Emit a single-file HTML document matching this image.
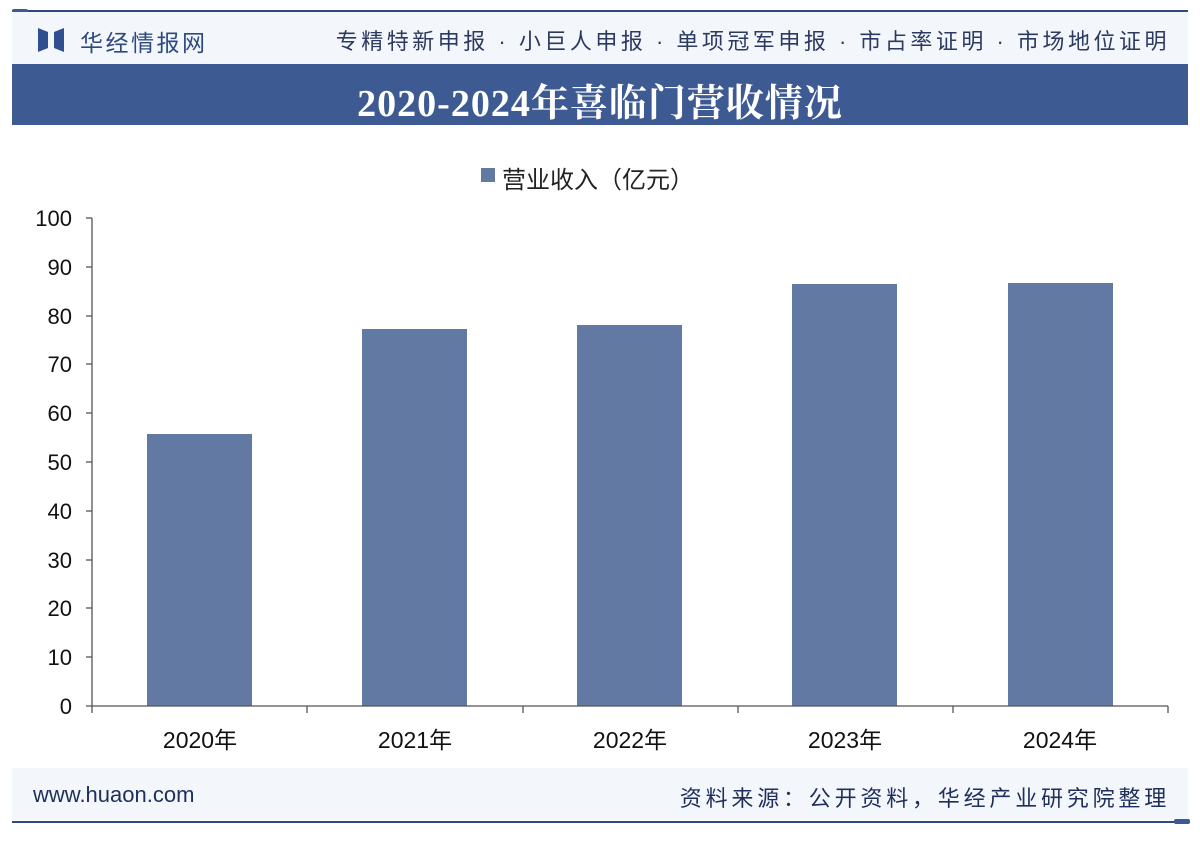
<!DOCTYPE html>
<html><head><meta charset="utf-8"><style>
body{margin:0;width:1200px;height:842px;background:#fff;position:relative;overflow:hidden;font-family:"Liberation Sans","Noto Sans CJK SC",sans-serif}
.a{position:absolute}
</style></head><body>
<div class="a" style="left:12px;top:10px;width:1176px;height:2px;background:#2f4a7a"></div>
<div class="a" style="left:12px;top:9px;width:16px;height:4px;background:#3d5a92;border-radius:2px"></div>
<div class="a" style="left:12px;top:12px;width:1176px;height:52px;background:#f3f6fb"></div>
<svg class="a" style="left:38px;top:28px" width="26" height="24"><path d="M0 0 L10 4 L10 20 L0 24Z M26 0 L16 4 L16 20 L26 24Z" fill="#2f4f8f"/></svg>
<div class="a" style="left:80px;top:24px;font-size:23px;color:#2d4a80;letter-spacing:2.5px">华经情报网</div>
<div class="a" style="right:30px;top:24px;font-size:22px;color:#2d3a60;letter-spacing:3.5px;white-space:nowrap">专精特新申报 · 小巨人申报 · 单项冠军申报 · 市占率证明 · 市场地位证明</div>
<div class="a" style="left:12px;top:64px;width:1176px;height:61px;background:#3d5a92"></div>
<div class="a" style="left:12px;top:72px;width:1176px;text-align:center;font-family:'Liberation Serif','Noto Serif CJK SC',serif;font-weight:bold;font-size:38px;letter-spacing:1px;color:#fff">2020-2024年喜临门营收情况</div>
<div class="a" style="left:481px;top:168px;width:14px;height:14px;background:#6279a4"></div>
<div class="a" style="left:502px;top:160px;font-size:24px;color:#222">营业收入（亿元）</div>
<svg class="a" style="left:0;top:0" width="1200" height="842">
<g fill="#6279a4">
<rect x="147" y="434" width="105" height="272"/>
<rect x="362" y="329" width="105" height="377"/>
<rect x="577" y="325" width="105" height="381"/>
<rect x="792" y="284" width="105" height="422"/>
<rect x="1008" y="283" width="105" height="423"/>
</g>
<g stroke="#555" stroke-width="1.3">
<line x1="92" y1="218" x2="92" y2="706"/>
<line x1="86" y1="706" x2="1168" y2="706"/>
<line x1="86" y1="218" x2="92" y2="218"/><line x1="86" y1="267" x2="92" y2="267"/><line x1="86" y1="316" x2="92" y2="316"/><line x1="86" y1="364" x2="92" y2="364"/><line x1="86" y1="413" x2="92" y2="413"/><line x1="86" y1="462" x2="92" y2="462"/><line x1="86" y1="511" x2="92" y2="511"/><line x1="86" y1="560" x2="92" y2="560"/><line x1="86" y1="608" x2="92" y2="608"/><line x1="86" y1="657" x2="92" y2="657"/>
<line x1="92" y1="706" x2="92" y2="713"/><line x1="307" y1="706" x2="307" y2="713"/><line x1="523" y1="706" x2="523" y2="713"/><line x1="738" y1="706" x2="738" y2="713"/><line x1="953" y1="706" x2="953" y2="713"/><line x1="1168" y1="706" x2="1168" y2="713"/>
</g>
<g font-size="22" fill="#111" text-anchor="end" font-family="Liberation Sans, sans-serif">
<text x="72" y="226">100</text><text x="72" y="275">90</text><text x="72" y="324">80</text><text x="72" y="372">70</text><text x="72" y="421">60</text><text x="72" y="470">50</text><text x="72" y="519">40</text><text x="72" y="568">30</text><text x="72" y="616">20</text><text x="72" y="665">10</text><text x="72" y="714">0</text>
</g>
<g font-size="23" fill="#111" text-anchor="middle" font-family="Liberation Sans, Noto Sans CJK SC, sans-serif">
<text x="200" y="748">2020年</text><text x="415" y="748">2021年</text><text x="630" y="748">2022年</text><text x="845" y="748">2023年</text><text x="1060" y="748">2024年</text>
</g>
</svg>
<div class="a" style="left:12px;top:768px;width:1176px;height:52px;background:#f3f6fb"></div>
<div class="a" style="left:33px;top:782px;font-size:22px;color:#1e2f5a">www.huaon.com</div>
<div class="a" style="right:30px;top:781px;font-size:22px;color:#1e2f5a;letter-spacing:3.8px">资料来源：公开资料，华经产业研究院整理</div>
<div class="a" style="left:12px;top:821px;width:1176px;height:2px;background:#2f4a7a"></div>
<div class="a" style="left:1174px;top:819px;width:16px;height:5px;background:#3d5a92;border-radius:2px"></div>
</body></html>
